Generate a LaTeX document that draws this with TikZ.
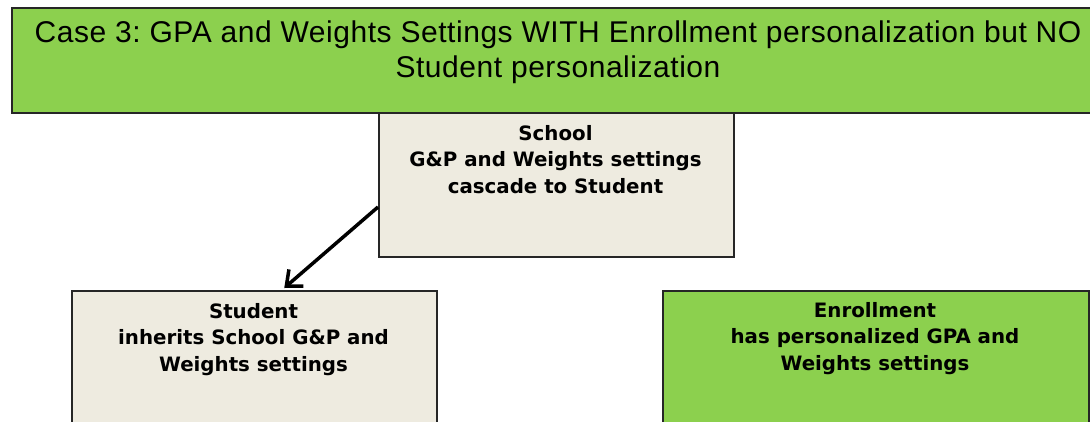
\documentclass[tikz,border=0pt]{standalone}
\usepackage{fontspec}
\setmainfont{Liberation Sans}
\newfontfamily\boxfont{DejaVu Sans}
\usetikzlibrary{arrows.meta,calc}
\definecolor{gr}{RGB}{140,208,78}
\definecolor{bg}{RGB}{238,235,224}
\begin{document}
\frenchspacing
\begin{tikzpicture}[x=1pt,y=-1pt,
  box/.style={draw=black!85,line width=1.5pt,anchor=north west,inner sep=0pt},
  btxt/.style={anchor=base,align=center,font=\boxfont\fontsize{19.8}{26.5}\selectfont\bfseries,inner sep=0pt}]
\useasboundingbox (0,0) rectangle (1090,421);
\clip (0,0) rectangle (1090,421);
\fill[white] (0,0) rectangle (1090,421);
% school box
\node[box,fill=bg,minimum width=355pt,minimum height=160pt] (school) at (378,96) {};
\node[btxt] (schooltxt) at (555.5,193) {School\\G\&P and Weights settings\\cascade to Student};
% title
\node[box,fill=gr,minimum width=1100pt,minimum height=105pt,line width=1.6pt] (title) at (11,7) {};
\node[anchor=base,align=center,font=\addfontfeature{LetterSpace=1.8}\fontsize{30}{35}\selectfont,inner sep=0pt] (titletxt) at (558,77) {Case 3: GPA and Weights Settings WITH Enrollment personalization but NO\\Student personalization};
% student
\node[box,fill=bg,minimum width=365pt,minimum height=150pt] (student) at (71,290) {};
\node[btxt] (studenttxt) at (253.5,371) {Student\\inherits School G\&P and\\Weights settings};
% enrollment
\node[box,fill=gr,minimum width=426pt,minimum height=150pt] (enroll) at (662,290) {};
\node[btxt] (enrolltxt) at (875,370) {Enrollment\\has personalized GPA and\\Weights settings};
% arrow
\draw[line width=3.5pt,-{Straight Barb[length=13pt,width=22pt,line width=3.5pt]}]
  ($(school.north west)+(0,111)$) -- ($(student.north)+(30,-2)$);
\end{tikzpicture}
\end{document}
